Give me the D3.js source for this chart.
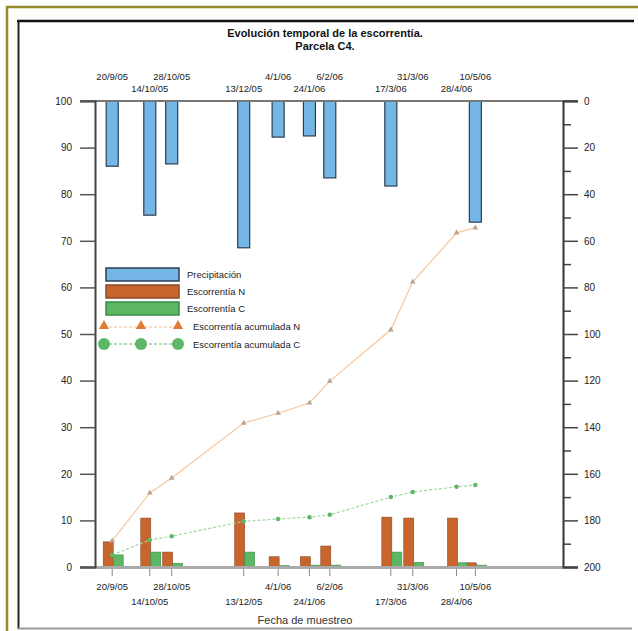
<!DOCTYPE html>
<html>
<head>
<meta charset="utf-8">
<script src="https://cdn.jsdelivr.net/npm/d3@7"></script>
<style>
  body { margin: 0; background: #fff; }
  svg { display: block; font-family: "Liberation Sans", Arial, sans-serif; }
</style>
</head>
<body>
<div id="chart"></div>
<script>
// Sample dates and labels.
var fechas = ["2005-09-20", "2005-10-14", "2005-10-28", "2005-12-13", "2006-01-04",
  "2006-01-24", "2006-02-06", "2006-03-17", "2006-03-31", "2006-04-28", "2006-05-10"];
var etiquetas = ["20/9/05", "14/10/05", "28/10/05", "13/12/05", "4/1/06",
  "24/1/06", "6/2/06", "17/3/06", "31/3/06", "28/4/06", "10/5/06"];

// Values.
var precipitacion = [28, 49, 27, 63, 15.5, 15, 33, 36.5, 0, 0, 52];
var escN = [5.4, 10.5, 3.2, 11.6, 2.2, 2.2, 4.5, 10.7, 10.5, 10.5, 0.9];
var escC = [2.6, 3.2, 0.8, 3.2, 0.3, 0.4, 0.4, 3.2, 1.0, 0.9, 0.4];
var acumN = [5.6, 15.9, 19.1, 30.9, 33.0, 35.2, 39.9, 50.9, 61.2, 71.7, 72.8];
var acumC = [2.6, 5.8, 6.6, 9.8, 10.3, 10.7, 11.2, 15.0, 16.1, 17.2, 17.6];

var leftTicks = [0, 10, 20, 30, 40, 50, 60, 70, 80, 90, 100];
var rightTicks = [0, 20, 40, 60, 80, 100, 120, 140, 160, 180, 200];

var width = 638, height = 631;
var parse = d3.timeParse("%Y-%m-%d");
var data = fechas.map(function(f, i) {
  return { d: parse(f), lab: etiquetas[i], p: precipitacion[i], n: escN[i], c: escC[i], an: acumN[i], ac: acumC[i], i: i };
});

var svg = d3.select("#chart").append("svg")
    .attr("width", width)
    .attr("height", height);

// Frame
svg.append("rect").attr("x", 7).attr("y", 7).attr("width", 640).attr("height", 640)
    .attr("fill", "#fefefb").attr("stroke", "#948d2c").attr("stroke-width", 2.5);
svg.append("rect").attr("x", 18).attr("y", 21).attr("width", 640).attr("height", 607)
    .attr("fill", "#fff");
svg.append("line").attr("x1", 17).attr("x2", 634).attr("y1", 21).attr("y2", 21)
    .attr("stroke", "#111").attr("stroke-width", 2.5);
svg.append("line").attr("x1", 18.5).attr("x2", 18.5).attr("y1", 20).attr("y2", 629)
    .attr("stroke", "#222").attr("stroke-width", 2);
svg.append("line").attr("x1", 18).attr("x2", 632).attr("y1", 628.5).attr("y2", 628.5)
    .attr("stroke", "#999").attr("stroke-width", 2);

var x = d3.scaleTime()
    .domain([parse("2005-09-09"), parse("2006-07-05")])
    .range([95, 563]);
var yL = d3.scaleLinear().domain([0, 100]).range([567, 101]);
var yR = d3.scaleLinear().domain([0, 200]).range([101, 567]);

// Title
svg.append("text").attr("x", 325).attr("y", 37).attr("text-anchor", "middle")
    .style("font-size", "11px").style("font-weight", "bold").attr("fill", "#111")
    .text("Evolución temporal de la escorrentía.");
svg.append("text").attr("x", 325).attr("y", 50).attr("text-anchor", "middle")
    .style("font-size", "11px").style("font-weight", "bold").attr("fill", "#111")
    .text("Parcela C4.");

// Precipitation bars hanging from the top
svg.selectAll("rect.prec").data(data.filter(function(d) { return d.p > 0; }))
  .enter().append("rect").attr("class", "prec")
    .attr("x", function(d) { return x(d.d) - 6; })
    .attr("y", yR(0))
    .attr("width", 12)
    .attr("height", function(d) { return yR(d.p) - yR(0); })
    .attr("fill", "#74b6e6").attr("stroke", "#2c3e52").attr("stroke-width", 1.2);

// Runoff bars
svg.selectAll("rect.n").data(data).enter().append("rect").attr("class", "n")
    .attr("x", function(d) { return x(d.d) - 9; })
    .attr("y", function(d) { return yL(d.n); })
    .attr("width", 10)
    .attr("height", function(d) { return yL(0) - yL(d.n); })
    .attr("fill", "#c9652c").attr("stroke", "#8a4a25").attr("stroke-width", 0.6);
svg.selectAll("rect.c").data(data).enter().append("rect").attr("class", "c")
    .attr("x", function(d) { return x(d.d) + 1; })
    .attr("y", function(d) { return yL(d.c); })
    .attr("width", 10)
    .attr("height", function(d) { return yL(0) - yL(d.c); })
    .attr("fill", "#5cb865").attr("stroke", "#3f8a48").attr("stroke-width", 0.6);

// Cumulative lines
var lineN = d3.line().x(function(d) { return x(d.d); }).y(function(d) { return yL(d.an); });
var lineC = d3.line().x(function(d) { return x(d.d); }).y(function(d) { return yL(d.ac); });
svg.append("path").datum(data).attr("d", lineN)
    .attr("fill", "none").attr("stroke", "#f6c79c").attr("stroke-width", 1.2);
svg.append("path").datum(data).attr("d", lineC)
    .attr("fill", "none").attr("stroke", "#9fd79f").attr("stroke-width", 1.2).attr("stroke-dasharray", "3,2");
svg.selectAll("path.mn").data(data).enter().append("path").attr("class", "mn")
    .attr("d", d3.symbol().type(d3.symbolTriangle).size(14))
    .attr("transform", function(d) { return "translate(" + x(d.d) + "," + yL(d.an) + ")"; })
    .attr("fill", "#b9a392");
svg.selectAll("path.mc").data(data).enter().append("path").attr("class", "mc")
    .attr("d", d3.symbol().type(d3.symbolCircle).size(16))
    .attr("transform", function(d) { return "translate(" + x(d.d) + "," + yL(d.ac) + ")"; })
    .attr("fill", "#5fb86a");

// Axes lines
svg.append("line").attr("x1", 80).attr("x2", 578).attr("y1", 101).attr("y2", 101)
    .attr("stroke", "#777").attr("stroke-width", 2);
svg.append("line").attr("x1", 80).attr("x2", 578).attr("y1", 567.5).attr("y2", 567.5)
    .attr("stroke", "#aaa").attr("stroke-width", 3);

// Left axis
var gL = svg.append("g").attr("transform", "translate(95,0)")
    .call(d3.axisLeft(yL).tickValues(leftTicks).tickSize(15).tickPadding(8));
gL.select(".domain").attr("stroke", "#444").attr("stroke-width", 2);
gL.selectAll(".tick line").attr("stroke", "#555").attr("stroke-width", 1.5);
gL.selectAll("text").style("font-size", "10px").attr("fill", "#222");

// Right axis with minor ticks
svg.append("g").attr("transform", "translate(563,0)")
    .call(d3.axisRight(yR).tickValues(d3.range(10, 200, 20)).tickSize(8).tickFormat(""))
    .call(function(g) { g.select(".domain").remove(); })
    .selectAll(".tick line").attr("stroke", "#444").attr("stroke-width", 1.5);
var gR = svg.append("g").attr("transform", "translate(563,0)")
    .call(d3.axisRight(yR).tickValues(rightTicks).tickSize(15).tickPadding(6));
gR.select(".domain").attr("stroke", "#333").attr("stroke-width", 2);
gR.selectAll(".tick line").attr("stroke", "#444").attr("stroke-width", 1.5);
gR.selectAll("text").style("font-size", "10px").attr("fill", "#222");

// Date ticks and labels
svg.selectAll("line.dt").data(data).enter().append("line").attr("class", "dt")
    .attr("x1", function(d) { return x(d.d); }).attr("x2", function(d) { return x(d.d); })
    .attr("y1", 569).attr("y2", 576)
    .attr("stroke", "#888").attr("stroke-width", 1);
svg.selectAll("text.top").data(data).enter().append("text").attr("class", "top")
    .attr("x", function(d) { return x(d.d); })
    .attr("y", function(d) { return d.i % 2 ? 92 : 80; })
    .attr("text-anchor", "middle").style("font-size", "9.5px").attr("fill", "#222")
    .text(function(d) { return d.lab; });
svg.selectAll("text.bot").data(data).enter().append("text").attr("class", "bot")
    .attr("x", function(d) { return x(d.d); })
    .attr("y", function(d) { return d.i % 2 ? 605 : 590; })
    .attr("text-anchor", "middle").style("font-size", "9.5px").attr("fill", "#222")
    .text(function(d) { return d.lab; });

svg.append("text").attr("x", 305).attr("y", 624).attr("text-anchor", "middle")
    .style("font-size", "11px").attr("fill", "#333").text("Fecha de muestreo");

// Legend
var lg = svg.append("g");
var boxes = [
  { lab: "Precipitación", fill: "#74b6e6", stroke: "#2c3e52" },
  { lab: "Escorrentía N", fill: "#c9652c", stroke: "#8a4a25" },
  { lab: "Escorrentía C", fill: "#5cb865", stroke: "#3f8a48" }
];
boxes.forEach(function(b, i) {
  lg.append("rect").attr("x", 106).attr("y", 268 + i * 17).attr("width", 73).attr("height", 13)
      .attr("fill", b.fill).attr("stroke", b.stroke).attr("stroke-width", 1.5);
  lg.append("text").attr("x", 187).attr("y", 278 + i * 17)
      .style("font-size", "9.5px").attr("fill", "#222").text(b.lab);
});
var lx = [104, 141, 178];
lg.append("line").attr("x1", 104).attr("x2", 178).attr("y1", 327).attr("y2", 327)
    .attr("stroke", "#f2b98a").attr("stroke-width", 1).attr("stroke-dasharray", "3,2");
lx.forEach(function(v) {
  lg.append("path").attr("d", d3.symbol().type(d3.symbolTriangle).size(45))
      .attr("transform", "translate(" + v + ",326)").attr("fill", "#e07a34");
});
lg.append("text").attr("x", 193).attr("y", 330).style("font-size", "9.5px").attr("fill", "#222")
    .text("Escorrentía acumulada N");
lg.append("line").attr("x1", 104).attr("x2", 178).attr("y1", 344).attr("y2", 344)
    .attr("stroke", "#5fb86a").attr("stroke-width", 1).attr("stroke-dasharray", "3,2");
lx.forEach(function(v) {
  lg.append("circle").attr("cx", v).attr("cy", 344).attr("r", 6).attr("fill", "#5cb865");
});
lg.append("text").attr("x", 193).attr("y", 348).style("font-size", "9.5px").attr("fill", "#222")
    .text("Escorrentía acumulada C");
</script>
</body>
</html>
